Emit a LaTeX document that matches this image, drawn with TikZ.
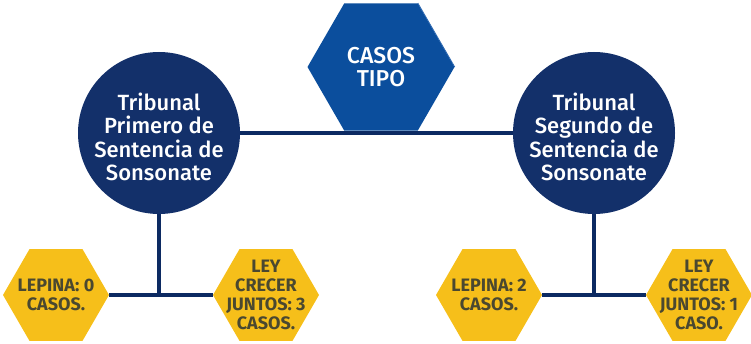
\documentclass[tikz,border=0pt]{standalone}
\usepackage{fontspec}
\setmainfont{Fira Sans}
\newfontfamily\medfont{Fira Sans}[UprightFont={* Medium}]
\usetikzlibrary{shapes.geometric}
\definecolor{navy}{HTML}{13306A}
\definecolor{hexblue}{HTML}{0B4E9D}
\definecolor{hexline}{HTML}{2A66B0}
\definecolor{gold}{HTML}{F6BF1A}
\definecolor{goldtext}{HTML}{4A4830}
\definecolor{wire}{HTML}{0C2A62}
\tikzset{
  court/.style={circle, fill=navy, minimum size=162pt, inner sep=0pt},
  courttext/.style={text=white, align=center, font=\medfont\fontsize{22}{23.5}\selectfont},
  tophex/.style={regular polygon, regular polygon sides=6, fill=hexblue, minimum size=147pt, inner sep=0pt},
  tophextext/.style={text=white, align=center, font=\medfont\fontsize{23}{23}\selectfont},
  casehex/.style={regular polygon, regular polygon sides=6, fill=gold, minimum size=106pt, inner sep=0pt},
  casetext/.style={text=goldtext, align=center, font=\bfseries\fontsize{18}{19}\selectfont},
  wireline/.style={draw=wire, line width=3.5pt}
}
\begin{document}
\begin{tikzpicture}[x=1pt,y=-1pt]
\useasboundingbox (0,0) rectangle (751,344);
% nodes
\node[court] (c1) at (159,133) {};
\node[court] (c2) at (594,133) {};
\coordinate (j1) at (159,295);
\coordinate (j2) at (594,295);
\node[casehex] (h1) at (56,295) {};
\node[casehex] (h2) at (266,295) {};
\node[casehex] (h3) at (489,295) {};
\node[casehex] (h4) at (699,295) {};
% connectors
\draw[wireline] (c1.east) -- (c2.west);
\draw[wireline] (c1.south) -- (j1);
\draw[wireline] (c2.south) -- (j2);
\draw[wireline] (h1.east) -- (h2.west);
\draw[wireline] (h3.east) -- (h4.west);
% top hexagon
\node[tophex] (t) at (381,67) {};
\draw[hexline, line width=0.8pt] (t.corner 1) -- (t.corner 6);
\node[tophextext] at (t) {CASOS\\TIPO};
% texts
\node[courttext] at ([yshift=-4pt]c1) {Tribunal\\Primero de\\Sentencia de\\Sonsonate};
\node[courttext] at ([yshift=-4pt]c2) {Tribunal\\Segundo de\\Sentencia de\\Sonsonate};
\node[casetext] at (h1) {LEPINA: 0\\CASOS.};
\node[casetext] at (h2) {LEY\\CRECER\\JUNTOS: 3\\CASOS.};
\node[casetext] at (h3) {LEPINA: 2\\CASOS.};
\node[casetext] at (h4) {LEY\\CRECER\\JUNTOS: 1\\CASO.};
\end{tikzpicture}
\end{document}
